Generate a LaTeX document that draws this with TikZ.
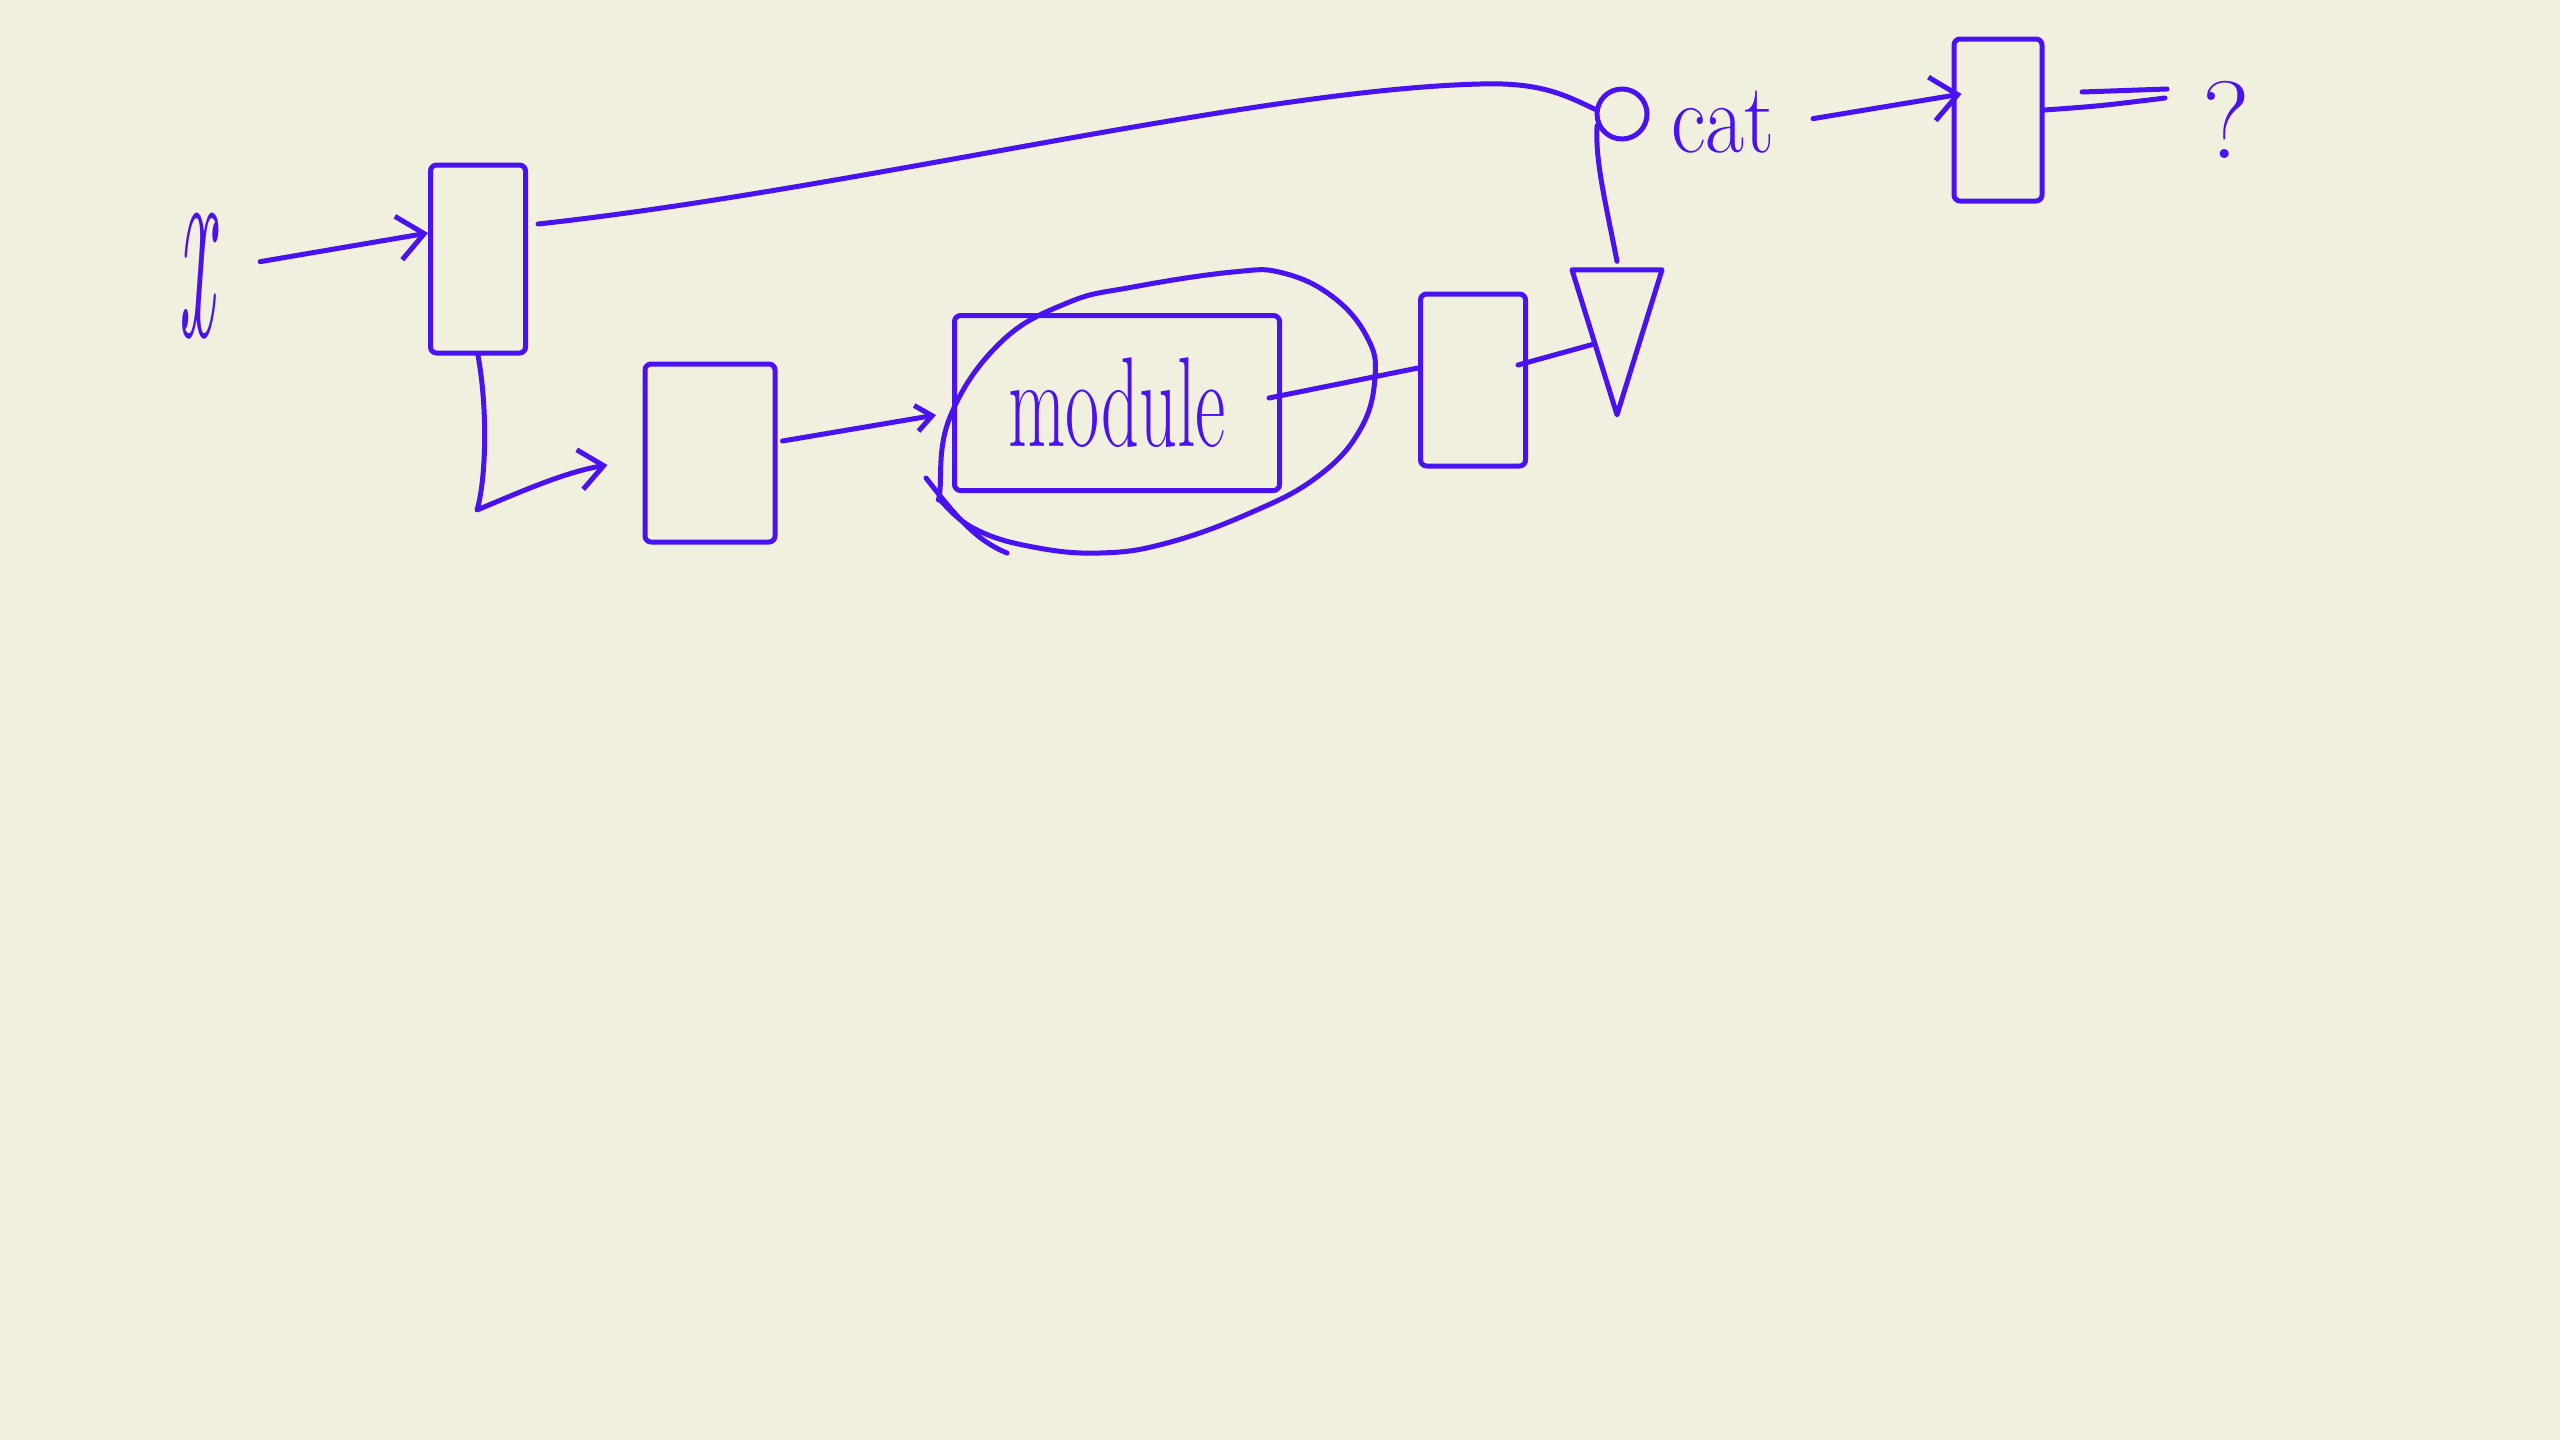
\documentclass[tikz,border=0pt]{standalone}
\usetikzlibrary{arrows.meta,shapes.geometric}
\definecolor{inkc}{RGB}{74,18,240}
\definecolor{bgc}{RGB}{241,240,222}
\begin{document}
\begin{tikzpicture}[x=1pt,y=-1pt,
  ink/.style={draw=inkc,line width=5pt,line cap=round,line join=round},
  blk/.style={ink,rectangle,rounded corners=6pt,inner sep=0pt},
  lbl/.style={text=inkc,inner sep=0pt},
  arrL/.style={-{Straight Barb[length=26pt,width=44pt]}},
  arrM/.style={-{Straight Barb[length=24pt,width=40pt]}},
  arrS/.style={-{Straight Barb[length=16pt,width=26pt]}}]
\useasboundingbox (0,0) rectangle (2560,1440);
\fill[bgc] (0,0) rectangle (2560,1440);

% nodes
\node[lbl,anchor=base] (x) at (196,336) {\fontsize{100}{100}\selectfont\scalebox{0.8}[2.8]{\itshape x}};
\node[blk,minimum width=95pt,minimum height=188pt] (b1) at (478,259) {};
\node[blk,minimum width=130pt,minimum height=178pt] (b2) at (710,453) {};
\node[blk,minimum width=325pt,minimum height=175pt,text=inkc] (mod) at (1117,403)
  {\fontsize{128}{128}\selectfont\scalebox{0.58}[1]{module}};
\node[blk,minimum width=105pt,minimum height=172pt] (b4) at (1473,380) {};
\node[ink,isosceles triangle,isosceles triangle stretches,shape border rotate=270,
  minimum width=90pt,minimum height=145pt,inner sep=0pt] (tri) at (1617,303) {};
\node[ink,circle,minimum size=50pt,inner sep=0pt] (cc) at (1622,114) {};
\node[lbl,anchor=base] (cat) at (1723,152) {\fontsize{100}{100}\selectfont\scalebox{0.85}[1]{cat}};
\node[blk,minimum width=88pt,minimum height=162pt] (b5) at (1998,120) {};
\node[lbl] (q) at (2226,120) {\fontsize{110}{110}\selectfont ?};
\coordinate (eq) at (2165,98);
\coordinate (eqa) at (2082,92);
\coordinate (eqb) at (2167,89);

% highlight around module
\draw[ink] plot[smooth cycle,tension=0.7] coordinates {
  (940,490) (950,417) (1000,343) (1067,303) (1133,287) (1233,272) (1283,273)
  (1333,297) (1367,337) (1375,377) (1360,430) (1317,477) (1250,513) (1167,543)
  (1100,553) (1033,547) (977,530) (943,503)};
\draw[ink] (926,478) .. controls (955,515) and (975,540) .. (1007,553);

% connectors
\draw[ink,arrL] ([xshift=46pt,yshift=14pt]x.east) -- ([yshift=26pt]b1.west);
\draw[ink] ([xshift=10pt,yshift=35pt]b1.east) .. controls (850,190) and (1250,90) .. (1480,84)
  .. controls (1540,82) and (1565,95) .. (cc.170);
\draw[ink,arrM] (b1.south) .. controls (488,410) and (486,480) .. (477,510)
  .. controls (520,492) and (565,472) .. ([xshift=-35pt,yshift=-12pt]b2.west);
\draw[ink,arrS] ([xshift=5pt,yshift=12pt]b2.east) -- ([xshift=-16pt,yshift=-12pt]mod.west);
\draw[ink] ([xshift=-13pt,yshift=5pt]mod.east) -- ([yshift=12pt]b4.west);
\draw[ink] ([xshift=-10pt,yshift=15pt]b4.east) -- (tri.right side);
\draw[ink] ([yshift=6pt]tri.north) .. controls (1605,200) and (1595,160) .. (cc.205);
\draw[ink,arrL] ([xshift=38pt,yshift=3pt]cat.east) -- ([xshift=10pt,yshift=26pt]b5.west);
\draw[ink] ([yshift=10pt]b5.east) .. controls (2100,106) .. (eq);
\draw[ink] (eqa) -- (eqb);
\end{tikzpicture}
\end{document}
